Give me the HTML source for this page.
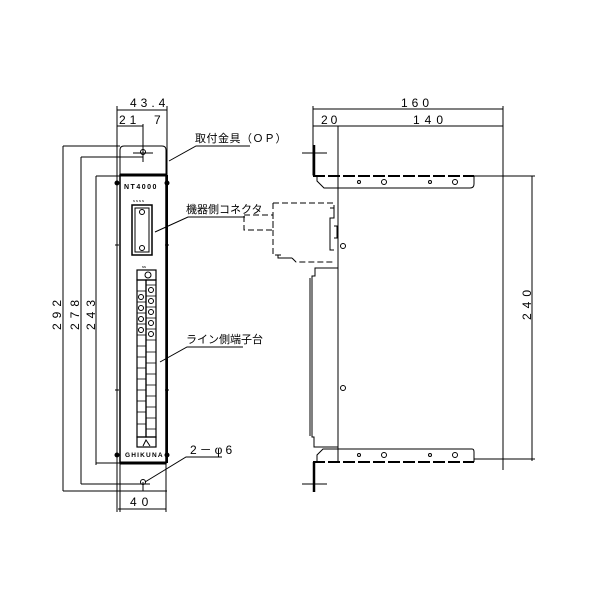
<!DOCTYPE html>
<html><head><meta charset="utf-8"><style>
html,body{margin:0;padding:0;background:#fff;}
svg{display:block}
text{font-family:"Liberation Sans","Noto Sans CJK JP",sans-serif;fill:#000}
</style></head><body>
<svg width="600" height="600" viewBox="0 0 600 600" xmlns="http://www.w3.org/2000/svg" stroke="#000" fill="none" stroke-width="1">
<!-- ===== FRONT VIEW ===== -->
<line x1="117" y1="110" x2="167" y2="110"/>
<line x1="117" y1="126" x2="143" y2="126"/>
<line x1="117" y1="106" x2="117" y2="512"/>
<line x1="167" y1="106" x2="167" y2="175"/>
<line x1="143" y1="124" x2="143" y2="162"/>
<text x="130" y="107" font-size="12" stroke="none" letter-spacing="4">43.4</text>
<text x="119" y="124" font-size="12" stroke="none" letter-spacing="4">21</text>
<text x="154" y="124" font-size="12" stroke="none">7</text>
<path d="M120 175 V150 Q120 146 124 146 H162 Q166 146 166 150 V175"/>
<circle cx="143" cy="152" r="2.5"/>
<line x1="133" y1="153" x2="153" y2="153"/>
<rect x="120" y="175" width="46" height="288" stroke-width="1.5"/>
<line x1="120" y1="175" x2="166" y2="175" stroke-width="3"/>
<line x1="120" y1="463" x2="166" y2="463" stroke-width="3"/>
<line x1="167" y1="175" x2="167" y2="463" stroke-width="2"/>
<line x1="117" y1="175" x2="117" y2="463"/>
<text x="124" y="189" font-size="7" stroke="none" font-weight="bold" letter-spacing="1.5">NT4000</text>
<text x="133" y="202" font-size="4" stroke="none" letter-spacing="1">ssss</text>
<rect x="132" y="205" width="20" height="50" stroke-width="1.5"/>
<rect x="135" y="208" width="14" height="44"/>
<circle cx="142" cy="212" r="2.5"/><circle cx="142" cy="248" r="2.5"/>
<line x1="115" y1="245" x2="119" y2="245"/><line x1="117" y1="242" x2="117" y2="249"/>
<line x1="165" y1="245" x2="169" y2="245"/><line x1="167" y1="242" x2="167" y2="249"/>
<line x1="115" y1="390" x2="119" y2="390"/><line x1="117" y1="387" x2="117" y2="394"/>
<line x1="165" y1="390" x2="169" y2="390"/><line x1="167" y1="387" x2="167" y2="394"/>
<circle cx="117" cy="183" r="2" fill="#000"/><circle cx="167" cy="183" r="2" fill="#000"/>
<circle cx="117" cy="455" r="2" fill="#000"/><circle cx="167" cy="455" r="2" fill="#000"/>
<text x="142" y="268" font-size="4" stroke="none">ss</text>
<rect x="137" y="270" width="19" height="10" stroke-width="1.2"/>
<circle cx="148" cy="275" r="3"/>
<g stroke-width="1.2">
<rect x="137" y="280" width="9" height="157"/>
<rect x="146" y="280" width="10" height="157"/>
</g>
<g stroke-width="0.8">
<line x1="137" y1="291" x2="146" y2="291"/><line x1="137" y1="302" x2="146" y2="302"/>
<line x1="137" y1="313" x2="146" y2="313"/><line x1="137" y1="324" x2="146" y2="324"/>
<line x1="137" y1="335" x2="146" y2="335"/><line x1="137" y1="346" x2="146" y2="346"/>
<line x1="137" y1="357" x2="146" y2="357"/><line x1="137" y1="368" x2="146" y2="368"/>
<line x1="137" y1="379" x2="146" y2="379"/><line x1="137" y1="390" x2="146" y2="390"/>
<line x1="137" y1="401" x2="146" y2="401"/><line x1="137" y1="412" x2="146" y2="412"/>
<line x1="137" y1="424" x2="146" y2="424"/>
<line x1="146" y1="285" x2="156" y2="285"/><line x1="146" y1="296" x2="156" y2="296"/>
<line x1="146" y1="307" x2="156" y2="307"/><line x1="146" y1="318" x2="156" y2="318"/>
<line x1="146" y1="329" x2="156" y2="329"/><line x1="146" y1="340" x2="156" y2="340"/>
<line x1="146" y1="352" x2="156" y2="352"/><line x1="146" y1="363" x2="156" y2="363"/>
<line x1="146" y1="374" x2="156" y2="374"/><line x1="146" y1="385" x2="156" y2="385"/>
<line x1="146" y1="396" x2="156" y2="396"/><line x1="146" y1="407" x2="156" y2="407"/>
<line x1="146" y1="418" x2="156" y2="418"/><line x1="146" y1="429" x2="156" y2="429"/>
</g>
<g>
<circle cx="141" cy="297" r="2.5"/><circle cx="141" cy="308" r="2.5"/><circle cx="141" cy="319" r="2.5"/><circle cx="141" cy="330" r="2.5"/>
<circle cx="151" cy="290" r="2.5"/><circle cx="151" cy="301" r="2.5"/><circle cx="151" cy="312" r="2.5"/><circle cx="151" cy="323" r="2.5"/><circle cx="151" cy="334" r="2.5"/>
</g>
<rect x="137" y="437" width="19" height="10" stroke-width="1.2"/>
<path d="M143 446 L146 440 L150 446"/>
<text x="125" y="457" font-size="6.5" stroke="none" font-weight="bold" letter-spacing="1.2">GHIKUNA</text>
<line x1="120" y1="463" x2="120" y2="512"/>
<line x1="166" y1="463" x2="166" y2="512"/>
<circle cx="143" cy="482" r="2.5"/>
<line x1="81" y1="484" x2="150" y2="484"/>
<line x1="143" y1="482" x2="143" y2="491"/>
<line x1="63" y1="491" x2="167" y2="491"/>
<line x1="118" y1="509" x2="166" y2="509"/>
<text x="130" y="506" font-size="12" stroke="none" letter-spacing="5">40</text>
<line x1="63" y1="146" x2="63" y2="491"/><line x1="63" y1="146" x2="120" y2="146"/>
<line x1="81" y1="157" x2="81" y2="484"/><line x1="81" y1="157" x2="143" y2="157"/>
<line x1="96" y1="176" x2="96" y2="465"/><line x1="96" y1="176" x2="120" y2="176"/>
<line x1="96" y1="463" x2="120" y2="463"/>
<text transform="translate(61,330) rotate(-90)" font-size="12" stroke="none" letter-spacing="5">292</text>
<text transform="translate(79,330) rotate(-90)" font-size="12" stroke="none" letter-spacing="5">278</text>
<text transform="translate(95,330) rotate(-90)" font-size="12" stroke="none" letter-spacing="5">243</text>
<polyline points="169,161 196,146 250,146"/>
<text x="195" y="142" font-size="11" stroke="none" letter-spacing="0.5">取付金具（ＯＰ）</text>
<polyline points="155,232 188,217 245,217"/>
<text x="186" y="213" font-size="11" stroke="none">機器側コネクタ</text>
<polyline points="160,362 187,347 243,347"/>
<text x="186" y="343" font-size="11" stroke="none">ライン側端子台</text>
<polyline points="145,482 186,457 222,457"/>
<text x="190" y="454" font-size="12" stroke="none" letter-spacing="3">2－φ6</text>

<!-- ===== SIDE VIEW ===== -->
<line x1="313" y1="109" x2="503" y2="109"/>
<line x1="313" y1="126" x2="503" y2="126"/>
<line x1="313" y1="106" x2="313" y2="175"/>
<line x1="503" y1="106" x2="503" y2="470"/>
<line x1="338" y1="126" x2="338" y2="462"/>
<text x="401" y="107" font-size="12" stroke="none" letter-spacing="4">160</text>
<text x="321" y="124" font-size="12" stroke="none" letter-spacing="3">20</text>
<text x="413" y="124" font-size="12" stroke="none" letter-spacing="5">140</text>
<line x1="314" y1="145" x2="314" y2="176" stroke-width="2.5"/>
<line x1="302" y1="153" x2="327" y2="153"/>
<line x1="313" y1="176" x2="474" y2="176" stroke-width="2" stroke-dasharray="12,3"/>
<path d="M317 176 V181 L324 188 H470 Q474 188 474 184 V176"/>
<circle cx="359" cy="182" r="1.5"/><circle cx="384" cy="182" r="2.5"/>
<circle cx="430" cy="182" r="1.5"/><circle cx="455" cy="182" r="2.5"/>
<line x1="474" y1="176" x2="535" y2="176"/>
<line x1="532" y1="176" x2="532" y2="461"/>
<text transform="translate(531,320) rotate(-90)" font-size="12" stroke="none" letter-spacing="5">240</text>
<line x1="313" y1="462" x2="474" y2="462" stroke-width="2" stroke-dasharray="12,3"/>
<path d="M317 462 V455 L323 449 H472 Q474 449 474 452 V462"/>
<circle cx="359" cy="455" r="1.5"/><circle cx="384" cy="455" r="2.5"/>
<circle cx="430" cy="455" r="1.5"/><circle cx="455" cy="455" r="2.5"/>
<line x1="474" y1="459" x2="535" y2="459"/>
<line x1="314" y1="462" x2="314" y2="492" stroke-width="2.5"/>
<line x1="302" y1="484" x2="327" y2="484"/>
<path d="M338 268 H315 V276 H312 V437 H314 V447 H338"/>
<line x1="310" y1="278" x2="310" y2="436"/>
<circle cx="343" cy="246" r="2.5"/><circle cx="343" cy="388" r="2.5"/>
<g stroke-dasharray="6,3">
<path d="M273 203 H334 V208"/>
<path d="M273 203 V255 H281"/>
<path d="M292 258 L296 262 H334"/>
<rect x="244" y="215" width="29" height="15"/>
</g>
<path d="M278 255 V258 H292 M330 208 H334 V218 H330 V250 H334"/>
<path d="M334 226 H337 V238 H334"/>
</svg>
</body></html>
